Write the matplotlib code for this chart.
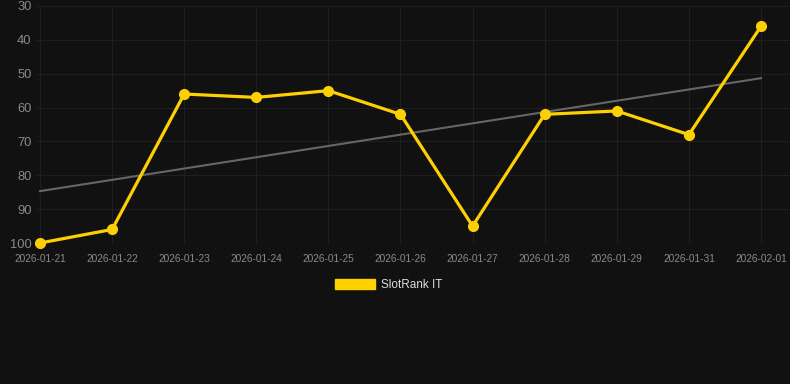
import matplotlib
matplotlib.use("Agg")
import matplotlib.pyplot as plt
from matplotlib.patches import Patch
import numpy as np

plt.rcParams['font.family'] = ['Liberation Sans', 'DejaVu Sans']

dates = ["2026-01-21", "2026-01-22", "2026-01-23", "2026-01-24", "2026-01-25",
         "2026-01-26", "2026-01-27", "2026-01-28", "2026-01-29", "2026-01-31",
         "2026-02-01"]
ranks = [100, 96, 56, 57, 55, 62, 95, 62, 61, 68, 36]
series_label = "SlotRank IT"
y_ticks = [30, 40, 50, 60, 70, 80, 90, 100]

bg = "#111111"
yellow = "#FFD000"

fig = plt.figure(figsize=(7.9, 3.84), dpi=100, facecolor=bg)
W, H = 790, 384
left, right, top, bottom = 37, 790, 6, 243
ax = fig.add_axes([left / W, 1 - bottom / H, (right - left) / W, (bottom - top) / H])
ax.set_facecolor(bg)

x = np.arange(len(dates))
# trend line (least squares)
coef = np.polyfit(x, ranks, 1)
ax.plot(x, np.polyval(coef, x), color="#666666", lw=1.5, zorder=2)
ax.plot(x, ranks, color=yellow, lw=2.3, marker="o", markersize=7, zorder=3, clip_on=False)

spacing = (761 - 40) / (len(dates) - 1)
ax.set_xlim(-(40 - left) / spacing, len(dates) - 1 + (right - 761) / spacing)
ax.set_ylim(100, 30)
ax.set_yticks(y_ticks)
ax.set_xticks(x)
ax.set_xticklabels(dates)
ax.grid(True, color="#1f1f1f", lw=0.8)
for s in ax.spines.values():
    s.set_visible(False)
ax.tick_params(axis="y", length=0, pad=4, labelsize=9.3, labelcolor="#8a8a8a")
ax.tick_params(axis="x", length=0, pad=8, labelsize=7.3, labelcolor="#8a8a8a")

leg = fig.legend(handles=[Patch(facecolor=yellow, edgecolor=yellow)], labels=[series_label],
                 loc="center", bbox_to_anchor=(0.492, 1 - 285 / H), frameon=False,
                 handlelength=3.4, handleheight=0.9, handletextpad=0.55,
                 fontsize=8.5, labelcolor="#dddddd")

fig.savefig("out.png", dpi=100, facecolor=bg)
